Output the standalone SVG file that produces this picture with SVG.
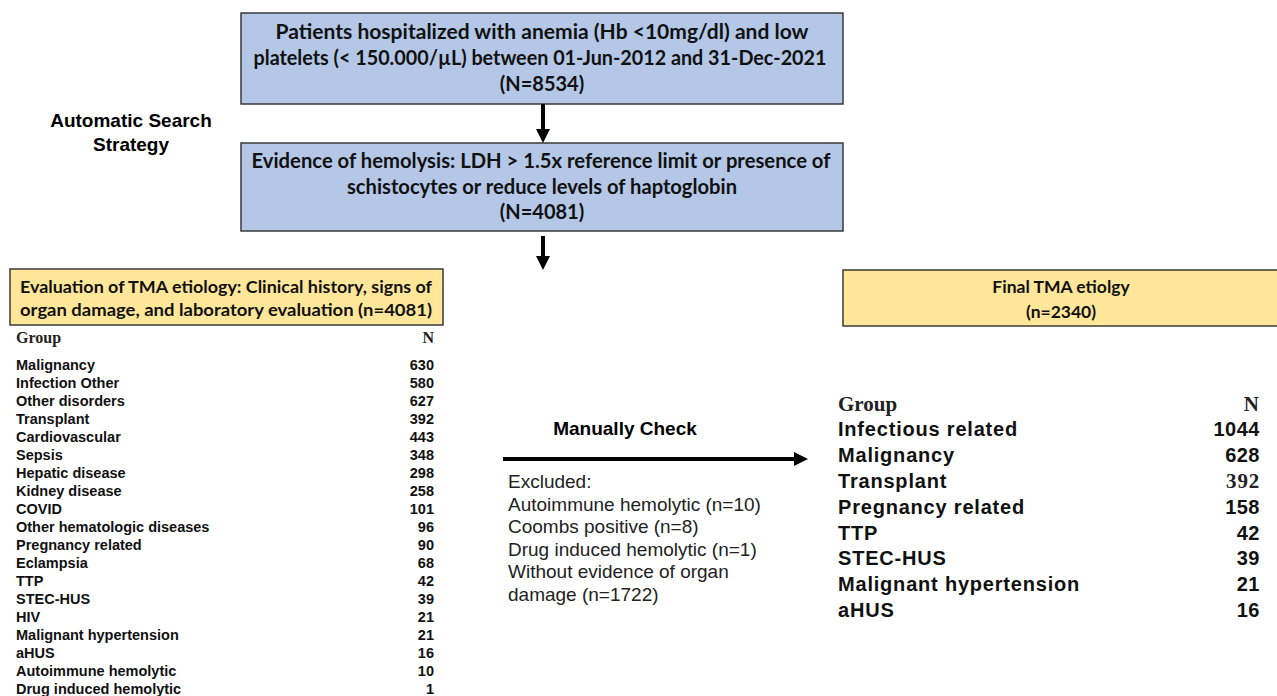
<svg xmlns="http://www.w3.org/2000/svg" width="1277" height="696" viewBox="0 0 1277 696">
<style>
.blue{fill:#b4c7e7;stroke:#3a3a3a;stroke-width:1.5}
.yel{fill:#ffe699;stroke:#3a3a3a;stroke-width:1.5}
.bx{font-family:Lato,"Open Sans",sans-serif;font-weight:bold;fill:#111;text-anchor:middle}
.hd{font-family:"Liberation Sans",Arial,sans-serif;font-weight:bold;fill:#000}
.ser{font-family:"Liberation Serif","DejaVu Serif",serif;font-weight:bold;fill:#222}
.lt{font-family:"Liberation Sans",Arial,sans-serif;font-weight:bold;font-size:14.5px;fill:#111}
.rt{font-family:"Liberation Sans",Arial,sans-serif;font-weight:bold;font-size:20px;letter-spacing:0.8px;fill:#111}
.rn{letter-spacing:0.5px}
.ex{font-family:"Liberation Sans",Arial,sans-serif;font-size:19px;fill:#222}
.r{text-anchor:end}
.ln{stroke:#000;stroke-width:4;fill:none}
</style>
<rect width="1277" height="696" fill="#fff"/>
<text class="hd" font-size="19" text-anchor="middle"><tspan x="131" y="127">Automatic Search</tspan><tspan x="131" y="151">Strategy</tspan></text>
<g id="box1">
<rect class="blue" x="241" y="13" width="602" height="91"/>
<text class="bx" font-size="20" x="542" y="39" textLength="533" lengthAdjust="spacingAndGlyphs">Patients hospitalized  with anemia (Hb &lt;10mg/dl) and low</text>
<text class="bx" font-size="20" x="540" y="65" textLength="573" lengthAdjust="spacingAndGlyphs">platelets (&lt; 150.000/µL) between 01-Jun-2012 and 31-Dec-2021</text>
<text class="bx" font-size="20" x="542" y="91">(N=8534)</text>
</g>
<g id="box2">
<rect class="blue" x="241" y="143" width="602" height="88"/>
<text class="bx" font-size="20" x="541" y="168" textLength="579" lengthAdjust="spacingAndGlyphs">Evidence of hemolysis: LDH &gt; 1.5x reference limit or  presence of</text>
<text class="bx" font-size="20" x="542" y="194" textLength="390" lengthAdjust="spacingAndGlyphs">schistocytes or reduce levels of haptoglobin</text>
<text class="bx" font-size="20" x="542" y="219">(N=4081)</text>
</g>
<g id="box3">
<rect class="yel" x="10" y="269" width="433" height="56"/>
<text class="bx" font-size="17.5" x="226" y="293" textLength="412" lengthAdjust="spacingAndGlyphs">Evaluation of TMA etiology: Clinical history, signs of</text>
<text class="bx" font-size="17.5" x="226" y="316" textLength="412" lengthAdjust="spacingAndGlyphs">organ damage, and  laboratory evaluation (n=4081)</text>
</g>
<g id="table1">
<text class="ser" font-size="16" x="16" y="343">Group</text>
<text class="ser r" font-size="16" x="434" y="343">N</text>
<g class="lt">
<text x="16" y="370">Malignancy</text><text class="r" x="434" y="370">630</text>
<text x="16" y="388">Infection Other</text><text class="r" x="434" y="388">580</text>
<text x="16" y="406">Other disorders</text><text class="r" x="434" y="406">627</text>
<text x="16" y="424">Transplant</text><text class="r" x="434" y="424">392</text>
<text x="16" y="442">Cardiovascular</text><text class="r" x="434" y="442">443</text>
<text x="16" y="460">Sepsis</text><text class="r" x="434" y="460">348</text>
<text x="16" y="478">Hepatic disease</text><text class="r" x="434" y="478">298</text>
<text x="16" y="496">Kidney disease</text><text class="r" x="434" y="496">258</text>
<text x="16" y="514">COVID</text><text class="r" x="434" y="514">101</text>
<text x="16" y="532">Other hematologic diseases</text><text class="r" x="434" y="532">96</text>
<text x="16" y="550">Pregnancy related</text><text class="r" x="434" y="550">90</text>
<text x="16" y="568">Eclampsia</text><text class="r" x="434" y="568">68</text>
<text x="16" y="586">TTP</text><text class="r" x="434" y="586">42</text>
<text x="16" y="604">STEC-HUS</text><text class="r" x="434" y="604">39</text>
<text x="16" y="622">HIV</text><text class="r" x="434" y="622">21</text>
<text x="16" y="640">Malignant hypertension</text><text class="r" x="434" y="640">21</text>
<text x="16" y="658">aHUS</text><text class="r" x="434" y="658">16</text>
<text x="16" y="676">Autoimmune  hemolytic</text><text class="r" x="434" y="676">10</text>
<text x="16" y="694">Drug induced hemolytic</text><text class="r" x="434" y="694">1</text>
</g>
</g>
<g id="box4">
<rect class="yel" x="843" y="270" width="440" height="56"/>
<text class="bx" font-size="17.5"><tspan x="1061" y="293">Final TMA etiolgy</tspan><tspan x="1061" y="318">(n=2340)</tspan></text>
</g>
<g id="table2">
<text class="ser" font-size="21" x="838" y="411">Group</text>
<text class="ser r" font-size="21" x="1259" y="411">N</text>
<g class="rt">
<text x="838" y="436">Infectious related</text><text class="r rn" x="1260" y="436">1044</text>
<text x="838" y="462">Malignancy</text><text class="r rn" x="1260" y="462">628</text>
<text x="838" y="488">Transplant</text><text class="r ser" font-size="21" x="1260" y="488">392</text>
<text x="838" y="514">Pregnancy related</text><text class="r rn" x="1260" y="514">158</text>
<text x="838" y="540">TTP</text><text class="r rn" x="1260" y="540">42</text>
<text x="838" y="565">STEC-HUS</text><text class="r rn" x="1260" y="565">39</text>
<text x="838" y="591">Malignant  hypertension</text><text class="r rn" x="1260" y="591">21</text>
<text x="838" y="617">aHUS</text><text class="r rn" x="1260" y="617">16</text>
</g>
</g>
<g id="manual">
<text class="hd" font-size="19" x="625" y="435" text-anchor="middle">Manually Check</text>
<text class="ex"><tspan x="508" y="488">Excluded:</tspan><tspan x="508" y="511">Autoimmune hemolytic (n=10)</tspan><tspan x="508" y="533">Coombs positive (n=8)</tspan><tspan x="508" y="556">Drug induced hemolytic (n=1)</tspan><tspan x="508" y="578">Without evidence of organ</tspan><tspan x="508" y="601">damage (n=1722)</tspan></text>
</g>
<g id="connectors">
<line class="ln" x1="543" y1="104" x2="543" y2="131"/>
<polygon points="536,129 550,129 543,143" fill="#000"/>
<line class="ln" x1="543" y1="236" x2="543" y2="258"/>
<polygon points="536,256 550,256 543,270" fill="#000"/>
<line class="ln" x1="503" y1="459" x2="796" y2="459"/>
<polygon points="794,452 794,466 808,459" fill="#000"/>
</g>
</svg>
